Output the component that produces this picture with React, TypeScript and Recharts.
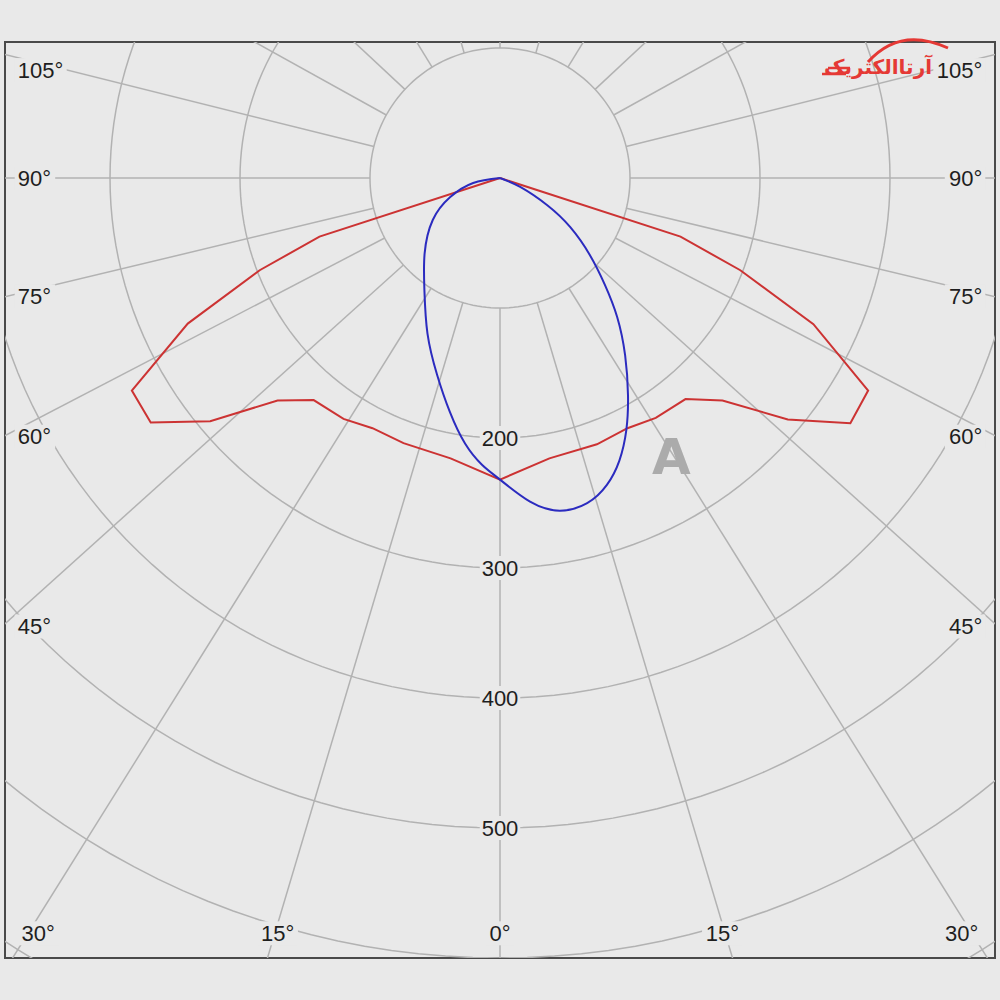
import { ScatterChart, Scatter, XAxis, YAxis, ReferenceDot, ReferenceArea } from "recharts";

// C0-C180 plane (red): gamma from nadir in degrees, intensity in cd
const redGamma = [-90, -72, -69, -65, -60, -55, -50, -45, -40, -33, -27, -20, -10, 0, 10, 20, 27, 33, 40, 45, 50, 55, 60, 65, 69, 72, 90];
const redCd = [0, 146, 198, 265, 327, 328, 291, 242, 223, 221, 216, 217, 219, 232, 219, 218, 216, 220, 222, 242, 289, 329, 327, 266, 198, 146, 0];

// C90-C270 plane (blue)
const blueGamma = [-90, -79.5, -69, -58, -45, -34, -25, -17.7, -12.1, -7.5, -3.6, 0, 5.3, 10.2, 15, 19.2, 22.9, 26.6, 30.5, 35.2, 40.1, 44.5, 49.4, 55, 60, 66, 90];
const blueCd = [0, 21, 41, 61, 82, 104, 132, 159, 184, 206, 221, 232, 250, 260, 259, 250, 236, 217, 194, 167, 140, 115, 91, 66, 42, 17, 0];

// polar grid (spoke directions as they appear on the diagram)
const gridRadii = [100, 200, 300, 400, 500, 600, 700];
const spokeAngles = [0, 16.6, 32, 48, 62.5, 76.5, 90, 104, 119, 133, 148.5, 164, 180, -164, -148.5, -133, -119, -104, -90, -76.5, -62.5, -48, -32, -16.6];
const radiusLabels = [200, 300, 400, 500];

// angle tick labels along the frame (text, x, y in cd units, anchor)
const angleLabels: [string, number, number, "start" | "middle" | "end"][] = [
  ["105°", -371, 83, "start"],
  ["90°", -371, 0, "start"],
  ["75°", -371, -91, "start"],
  ["60°", -371, -199, "start"],
  ["45°", -371, -345, "start"],
  ["30°", -368, -581, "start"],
  ["15°", -171, -581, "middle"],
  ["0°", 0, -581, "middle"],
  ["15°", 171, -581, "middle"],
  ["30°", 368, -581, "end"],
  ["45°", 371, -345, "end"],
  ["60°", 371, -199, "end"],
  ["75°", 371, -91, "end"],
  ["90°", 371, 0, "end"],
  ["105°", 371, 83, "end"],
];

const BG = "#e9e9e9";
const GRID = "#b2b2b2";
const X_DOMAIN: [number, number] = [-380.77, 380.77];
const Y_DOMAIN: [number, number] = [-600, 104.62];

const rad = (d: number) => (d * Math.PI) / 180;
const polar = (g: number, r: number) => ({ x: r * Math.sin(rad(g)), y: -r * Math.cos(rad(g)) });

const redData = redGamma.map((g, i) => polar(g, redCd[i]));
const blueData = blueGamma.map((g, i) => polar(g, blueCd[i]));

const circleData = (r: number) => {
  const pts = [];
  for (let a = 0; a <= 360; a += 2) pts.push(polar(a, r));
  return pts;
};

const noDot = () => <g />;

function Tag(props: any) {
  const { viewBox, text, anchor } = props;
  const x = viewBox.x;
  const y = viewBox.y;
  const w = text.length * 11.5 + 6;
  const left = anchor === "start" ? x - 3 : anchor === "end" ? x - w + 3 : x - w / 2;
  return (
    <g>
      <rect x={left} y={y - 12} width={w} height={24} fill={BG} />
      <text
        x={x}
        y={y}
        textAnchor={anchor}
        dominantBaseline="central"
        fontFamily="'Liberation Sans', Arial, sans-serif"
        fontSize={22}
        fill="#1e1e1e"
      >
        {text}
      </text>
    </g>
  );
}

export default function App() {
  return (
    <div style={{ position: "absolute", left: 0, top: 0, width: 1000, height: 1000, background: BG }}>
      <ScatterChart width={1000} height={1000} margin={{ top: 42, right: 5, bottom: 42, left: 5 }}>
        <XAxis type="number" dataKey="x" domain={X_DOMAIN} allowDataOverflow hide />
        <YAxis type="number" dataKey="y" domain={Y_DOMAIN} allowDataOverflow hide />
        {gridRadii.map((r) => (
          <Scatter
            key={"c" + r}
            data={circleData(r)}
            line={{ stroke: GRID, strokeWidth: 1.5 }}
            shape={noDot}
            isAnimationActive={false}
          />
        ))}
        {spokeAngles.map((a) => (
          <Scatter
            key={"s" + a}
            data={[polar(a, 100), polar(a, 900)]}
            line={{ stroke: GRID, strokeWidth: 1.5 }}
            shape={noDot}
            isAnimationActive={false}
          />
        ))}
        <Scatter
          data={redData}
          line={{ stroke: "#cc3333", strokeWidth: 2 }}
          shape={noDot}
          isAnimationActive={false}
        />
        <Scatter
          data={blueData}
          line={{ stroke: "#2b2bbf", strokeWidth: 2 }}
          lineJointType="natural"
          shape={noDot}
          isAnimationActive={false}
        />
        {radiusLabels.map((r) => (
          <ReferenceDot
            key={"r" + r}
            x={0}
            y={-r}
            r={0}
            fill="none"
            stroke="none"
            ifOverflow="visible"
            label={(p: any) => <Tag {...p} text={String(r)} anchor="middle" />}
          />
        ))}
        {angleLabels.map(([t, x, y, anchor], i) => (
          <ReferenceDot
            key={"a" + i}
            x={x}
            y={y}
            r={0}
            fill="none"
            stroke="none"
            ifOverflow="visible"
            label={(p: any) => <Tag {...p} text={t} anchor={anchor} />}
          />
        ))}
        <ReferenceArea
          x1={X_DOMAIN[0]}
          x2={X_DOMAIN[1]}
          y1={Y_DOMAIN[0]}
          y2={Y_DOMAIN[1]}
          fill="none"
          stroke="#4a4a4a"
          strokeWidth={2}
          ifOverflow="visible"
        />
      </ScatterChart>
      <svg
        width={130}
        height={50}
        style={{ position: "absolute", left: 820, top: 30, overflow: "visible" }}
      >
        <path d="M 48 32 Q 80 -4 128 18" fill="none" stroke="#e53935" strokeWidth={3} />
        <line x1={8} y1={38} x2={30} y2={38} stroke="#e53935" strokeWidth={2.5} />
        <line x1={2} y1={44} x2={26} y2={44} stroke="#e53935" strokeWidth={2.5} />
      </svg>
      <div
        style={{
          position: "absolute",
          left: 836,
          top: 54,
          width: 96,
          textAlign: "center",
          direction: "rtl",
          color: "#e53935",
          fontFamily: "'DejaVu Sans', sans-serif",
          fontWeight: "bold",
          fontSize: 20,
          lineHeight: "26px",
          whiteSpace: "nowrap",
        }}
      >
        آرتاالکتریک
      </div>
      <div
        style={{
          position: "absolute",
          left: 652,
          top: 428,
          color: "#ababab",
          fontFamily: "'DejaVu Sans', sans-serif",
          fontWeight: "bold",
          fontSize: 50,
          lineHeight: "58px",
        }}
      >
        A
      </div>
    </div>
  );
}
